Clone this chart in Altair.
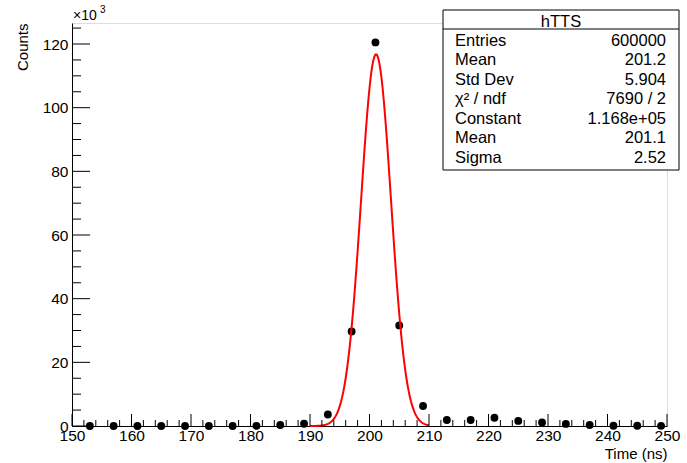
import altair as alt
import pandas as pd
import numpy as np

# ---------------- data ----------------
bin_centers = [153, 157, 161, 165, 169, 173, 177, 181, 185, 189, 193, 197, 201,
               205, 209, 213, 217, 221, 225, 229, 233, 237, 241, 245, 249]
counts = [0, 0, 0, 0, 0, 0, 0, 50, 300, 700, 3600, 29700, 120500,
          31600, 6300, 1900, 1900, 2600, 1600, 1100, 650, 300, 80, 60, 40]

# gaussian fit parameters (from the stats box)
fit_constant = 116800
fit_mean = 201.1
fit_sigma = 2.52
fit_range = [190, 210]

x_major = list(range(150, 251, 10))
x_minor = [v for v in range(150, 251, 2) if v % 10]
y_major = list(range(0, 120001, 20000))
y_minor = [v for v in range(0, 126001, 5000) if v % 20000]

stat_title = "hTTS"
stat_labels = ["Entries", "Mean", "Std Dev", "χ² / ndf", "Constant", "Mean", "Sigma"]
stat_values = ["600000", "201.2", "5.904", "7690 / 2", "1.168e+05", "201.1", "2.52"]

# ---------------- layout ----------------
W, H = 595, 403
FONT = "Liberation Sans"

pts = pd.DataFrame({"x": bin_centers, "y": counts})
fx = np.linspace(fit_range[0], fit_range[1], 101)
fit = pd.DataFrame({"x": fx,
                    "y": fit_constant * np.exp(-0.5 * ((fx - fit_mean) / fit_sigma) ** 2)})

xs = alt.Scale(domain=[150, 250], nice=False, zero=False)
ys = alt.Scale(domain=[0, 126600], nice=False, zero=False)

xaxis = alt.Axis(values=x_major, format="d", ticks=False, grid=False,
                 domainColor="black", labelFont=FONT, labelFontSize=15.5,
                 labelColor="black", labelPadding=2,
                 title="Time (ns)", titleFont=FONT, titleFontSize=15,
                 titleFontWeight="normal", titleColor="black",
                 titleX=W, titleY=32, titleAlign="right",
                 titleBaseline="alphabetic", labelFlush=False, labelOverlap=False)
yaxis = alt.Axis(values=y_major, labelExpr="datum.value/1000", ticks=False,
                 grid=False, domainColor="black", labelFont=FONT,
                 labelFontSize=15.5, labelColor="black", labelPadding=4,
                 title="Counts", titleFont=FONT, titleFontSize=15,
                 titleFontWeight="normal", titleColor="black",
                 titleX=-45, titleY=0, titleAngle=270, titleAlign="right",
                 titleBaseline="alphabetic", labelOverlap=False)

X = alt.X("x:Q", scale=xs, axis=xaxis)
Y = alt.Y("y:Q", scale=ys, axis=yaxis)

points = alt.Chart(pts).mark_circle(size=62, color="black", opacity=1).encode(x=X, y=Y)

curve = alt.Chart(fit).mark_line(color="#ff0000", strokeWidth=2).encode(x=X, y=Y)

def xticks(vals, length):
    return alt.Chart(pd.DataFrame({"x": vals})).mark_rule(color="black", strokeWidth=1).encode(
        x=X, y=alt.value(H), y2=alt.value(H - length))

def yticks(vals, length):
    return alt.Chart(pd.DataFrame({"y": vals})).mark_rule(color="black", strokeWidth=1).encode(
        y=Y, x=alt.value(0), x2=alt.value(length))

one = pd.DataFrame({"a": [0]})

# stats box
bx0, bx1, by0, by1 = 371, 607, -13, 147
SF = 16.5
box = alt.Chart(one).mark_rect(fill="white", stroke="black", strokeWidth=1).encode(
    x=alt.value(bx0), x2=alt.value(bx1), y=alt.value(by0), y2=alt.value(by1))
sep = alt.Chart(one).mark_rule(color="black", strokeWidth=1).encode(
    x=alt.value(bx0), x2=alt.value(bx1), y=alt.value(6))
head = alt.Chart(one).mark_text(text=stat_title, font=FONT, fontSize=SF, color="black",
                                align="center", baseline="alphabetic").encode(
    x=alt.value((bx0 + bx1) / 2), y=alt.value(4))

stat_layers = []
for i, (lab, val) in enumerate(zip(stat_labels, stat_values)):
    yy = 23 + 19.45 * i
    stat_layers.append(alt.Chart(one).mark_text(text=lab, font=FONT, fontSize=SF, color="black",
                                                align="left", baseline="alphabetic").encode(
        x=alt.value(383), y=alt.value(yy)))
    stat_layers.append(alt.Chart(one).mark_text(text=val, font=FONT, fontSize=SF, color="black",
                                                align="right", baseline="alphabetic").encode(
        x=alt.value(594), y=alt.value(yy)))

exp_main = alt.Chart(one).mark_text(text="×10", font=FONT, fontSize=14, color="black",
                                    align="left", baseline="alphabetic").encode(
    x=alt.value(1), y=alt.value(-3))
exp_sup = alt.Chart(one).mark_text(text="3", font=FONT, fontSize=10, color="black",
                                   align="left", baseline="alphabetic").encode(
    x=alt.value(28), y=alt.value(-10))

chart = alt.layer(
    points, curve,
    xticks(x_major, 12), xticks(x_minor, 6),
    yticks(y_major, 18), yticks(y_minor, 9),
    box, sep, head, *stat_layers, exp_main, exp_sup,
).properties(
    width=W, height=H,
    autosize=alt.AutoSizeParams(type="none"),
    padding={"left": 72, "top": 23, "right": 20, "bottom": 37},
).configure_view(stroke="black", strokeWidth=1).configure(background="white")

chart.save("out.html", embed_options={"renderer": "svg", "actions": False})
